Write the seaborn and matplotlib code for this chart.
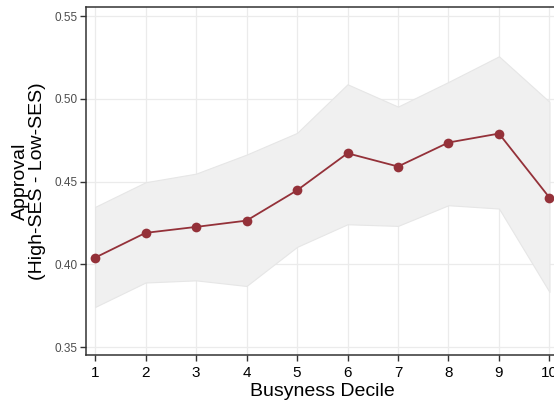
import matplotlib
matplotlib.use("Agg")
import matplotlib.pyplot as plt
import seaborn as sns
import pandas as pd

# Approval gap by busyness decile with confidence band
deciles = [1, 2, 3, 4, 5, 6, 7, 8, 9, 10]
approval_gap = [0.404, 0.419, 0.4226, 0.4264, 0.4447, 0.4671, 0.4591, 0.4736, 0.479, 0.4403]
ci_upper = [0.4347, 0.4496, 0.4548, 0.4663, 0.4794, 0.5088, 0.4953, 0.5102, 0.5257, 0.4982]
ci_lower = [0.3742, 0.389, 0.3903, 0.3869, 0.4105, 0.4242, 0.4232, 0.4357, 0.4337, 0.3833]
y_ticks = [0.35, 0.40, 0.45, 0.50, 0.55]

df = pd.DataFrame({"decile": deciles, "gap": approval_gap,
                   "lo": ci_lower, "hi": ci_upper})

sns.set_theme(style="white")
plt.rcParams["font.family"] = ["Liberation Sans", "DejaVu Sans"]

fig = plt.figure(figsize=(5.54, 4.04), dpi=100)
ax = fig.add_axes([0.1552, 0.1213, 0.853, 0.8614])

ax.fill_between(df["decile"], df["lo"], df["hi"], color="#f0f0f0",
                edgecolor="#e6e6e6", linewidth=0.8, zorder=1)
sns.lineplot(data=df, x="decile", y="gap", ax=ax, color="#943139",
             marker="o", markersize=7, markeredgewidth=0, linewidth=1.3,
             zorder=3)

ax.set_xlim(0.82, 10.18)
ax.set_ylim(0.3452, 0.5555)
ax.set_xticks(deciles)
ax.set_yticks(y_ticks)
ax.set_yticklabels([f"{v:.2f}" for v in y_ticks])
ax.grid(True, color="#ebebeb", linewidth=0.9, zorder=0)
ax.set_axisbelow(True)

for side in ("left", "bottom", "top"):
    ax.spines[side].set_color("#333333")
    ax.spines[side].set_linewidth(1.1)
ax.spines["right"].set_visible(False)

ax.tick_params(axis="x", direction="out", length=4, width=1, colors="#333333",
               labelcolor="black", labelsize=11, pad=4, bottom=True)
ax.tick_params(axis="y", direction="out", length=4, width=1, colors="#333333",
               labelcolor="#4d4d4d", labelsize=8.5, pad=2, left=True)

ax.set_xlabel("Busyness Decile", fontsize=14, color="black", labelpad=2)
ax.set_ylabel("Approval\n(High-SES - Low-SES)", fontsize=14, color="black",
              labelpad=6, linespacing=1.0)

fig.savefig("out.png", dpi=100)
